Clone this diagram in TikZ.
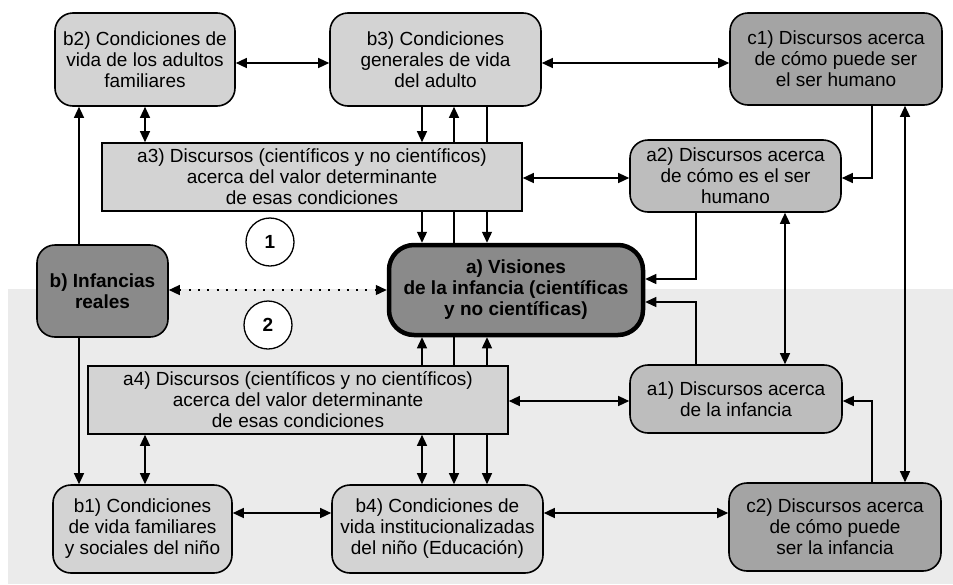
\documentclass[tikz,border=0pt]{standalone}
\usepackage{fontspec}
\setmainfont{Liberation Sans}
\usetikzlibrary{arrows.meta,calc}
\pgfdeclarelayer{background}
\pgfsetlayers{background,main}
\definecolor{paper}{HTML}{EBEBEB}
\definecolor{lightfill}{HTML}{D3D3D3}
\definecolor{midfill}{HTML}{BDBDBD}
\definecolor{darkfill}{HTML}{A4A4A4}
\definecolor{deepfill}{HTML}{8A8A8A}
\begin{document}
\begin{tikzpicture}[x=1pt,y=-1pt,
  >={Triangle[length=11pt,width=10pt]},
  font=\fontsize{19}{21}\selectfont,
  box/.style={draw, line width=1.6pt, rounded corners=18pt, align=center, inner sep=0pt},
  flat/.style={draw, line width=1.6pt, align=center, inner sep=0pt, fill=lightfill},
  cond/.style={box, fill=lightfill},
  disc/.style={box, fill=midfill},
  poss/.style={box, fill=darkfill},
  core/.style={box, fill=deepfill, font=\fontsize{19}{21}\selectfont\bfseries},
  numdisc/.style={draw, circle, line width=1.3pt, fill=white, minimum size=48pt, inner sep=0pt, font=\fontsize{19}{21}\selectfont\bfseries},
  link/.style={line width=1.3pt},
  sparse/.style={dash pattern=on 2pt off 7.3pt},
]
\useasboundingbox (0,0) rectangle (953,584);

% boxes
\node[cond, minimum width=180pt, minimum height=93pt] (b2) at (145,59.5)
  {b2) Condiciones de\\vida de los adultos\\familiares};
\node[cond, minimum width=211pt, minimum height=93pt] (b3) at (435.5,59.5)
  {b3) Condiciones\\generales de vida\\del adulto};
\node[poss, minimum width=212pt, minimum height=92pt] (c1) at (836,59)
  {c1) Discursos acerca\\de cómo puede ser\\el ser humano};
\node[flat, minimum width=420pt, minimum height=68pt] (a3) at (312,177)
  {a3) Discursos (científicos y no científicos)\\acerca del valor determinante\\de esas condiciones};
\node[disc, minimum width=211pt, minimum height=72pt] (a2) at (735.5,176)
  {a2) Discursos acerca\\de cómo es el ser\\humano};
\node[core, minimum width=131pt, minimum height=92pt] (b) at (102.5,291)
  {b) Infancias\\reales};
\node[core, line width=4.5pt, rounded corners=25pt, minimum width=254pt, minimum height=90pt] (a) at (516,290)
  {a) Visiones\\de la infancia (científicas\\y no científicas)};
\node[flat, minimum width=420pt, minimum height=68pt] (a4) at (298,400)
  {a4) Discursos (científicos y no científicos)\\acerca del valor determinante\\de esas condiciones};
\node[disc, minimum width=212pt, minimum height=68pt] (a1) at (736,399)
  {a1) Discursos acerca\\de la infancia};
\node[cond, minimum width=179pt, minimum height=88pt] (b1) at (142.5,529)
  {b1) Condiciones\\de vida familiares\\y sociales del niño};
\node[cond, minimum width=211pt, minimum height=88pt] (b4) at (437.5,529)
  {b4) Condiciones de\\vida institucionalizadas\\del niño (Educación)};
\node[poss, minimum width=212pt, minimum height=88pt] (c2) at (835,527)
  {c2) Discursos acerca\\de cómo puede\\ser la infancia};
\node[numdisc] (m1) at (270,242) {1};
\node[numdisc] (m2) at (268,325) {2};

% lanes and rows used by the connectors
\coordinate (l79) at (79,0);
\coordinate (l145) at (145,0);
\coordinate (l422) at (422,0);
\coordinate (l454) at (454,0);
\coordinate (l487) at (487,0);
\coordinate (l696) at (696,0);
\coordinate (l785) at (785,0);
\coordinate (l872) at (872,0);
\coordinate (l905) at (905,0);
\coordinate (r63) at (0,63);
\coordinate (r178) at (0,178);
\coordinate (r279) at (0,279);
\coordinate (r290) at (0,290);
\coordinate (r302) at (0,302);
\coordinate (r401) at (0,401);
\coordinate (r513) at (0,513);

\begin{pgfonlayer}{background}
  \fill[paper] (8,289) rectangle (953,584);
  % top row
  \draw[link,<->] (b2.east |- r63) -- (b3.west |- r63);
  \draw[link,<->] (b3.east |- r63) -- (c1.west |- r63);
  \draw[link,<->] (b2.south -| l145) -- (a3.north -| l145);
  \draw[link,->] (b3.south -| l422) -- (a3.north -| l422);
  \draw[link,->] (a.north -| l454) -- (b3.south -| l454);
  \draw[link,->] (b3.south -| l487) -- (a.north -| l487);
  \draw[link,->] (a3.south -| l422) -- (a.north -| l422);
  % bottom row
  \draw[link,->] (a4.north -| l422) -- (a.south -| l422);
  \draw[link,->] (a.south -| l454) -- (b4.north -| l454);
  \draw[link,<->] (a.south -| l487) -- (b4.north -| l487);
  \draw[link,<->] (a4.south -| l422) -- (b4.north -| l422);
  \draw[link,<->] (a4.south -| l145) -- (b1.north -| l145);
  \draw[link,<->] (b1.east |- r513) -- (b4.west |- r513);
  \draw[link,<->] (b4.east |- r513) -- (c2.west |- r513);
  % left column
  \draw[link,->] (b.north -| l79) -- (b2.south -| l79);
  \draw[link,->] (b.south -| l79) -- (b1.north -| l79);
  \draw[link,<->,sparse] (b.east |- r290) -- (a.west |- r290);
  % right side
  \draw[link,<->] (a3.east |- r178) -- (a2.west |- r178);
  \draw[link,->] (c1.south -| l872) |- (a2.east |- r178);
  \draw[link,<->] (c1.south -| l905) -- (c2.north -| l905);
  \draw[link,->] (a2.south -| l696) |- (a.east |- r279);
  \draw[link,<->] (a2.south -| l785) -- (a1.north -| l785);
  \draw[link,->] (a1.north -| l696) |- (a.east |- r302);
  \draw[link,<->] (a4.east |- r401) -- (a1.west |- r401);
  \draw[link,->] (c2.north -| l872) |- (a1.east |- r401);
\end{pgfonlayer}
\end{tikzpicture}
\end{document}
